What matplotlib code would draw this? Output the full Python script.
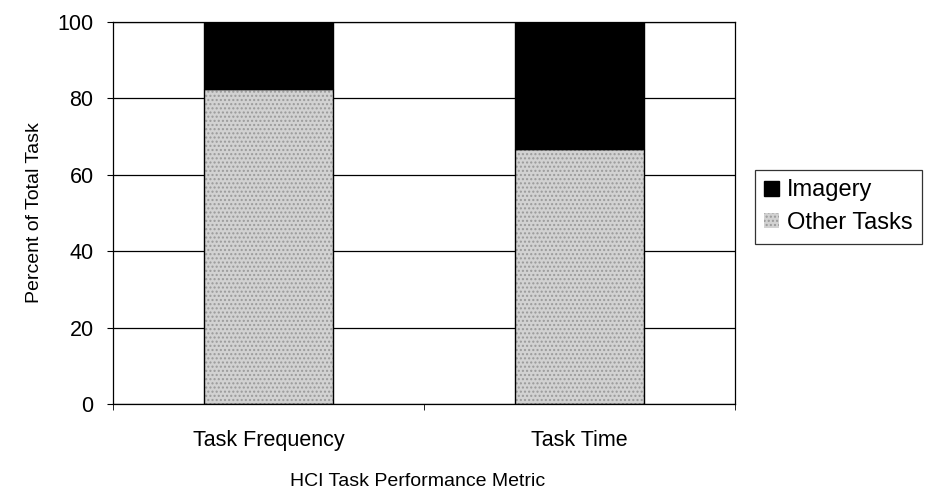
import matplotlib
matplotlib.use("Agg")
import matplotlib.pyplot as plt
import numpy as np

# dati
categories = ["Task Frequency", "Task Time"]
other_tasks = [82.5, 66.7]
imagery = [17.5, 33.3]
series_names = ["Imagery", "Other Tasks"]
y_ticks = [0, 20, 40, 60, 80, 100]

plt.rcParams['font.family'] = ['Liberation Sans', 'DejaVu Sans']

fig = plt.figure(figsize=(9.27, 4.98), dpi=100)
ax = fig.add_axes([0.1219, 0.1888, 0.671, 0.767])

x = np.arange(len(categories))
w = 0.415

# gridlines orizzontali
for t in y_ticks:
    ax.axhline(t, color="black", lw=0.9, zorder=1)

b_other = ax.bar(x, other_tasks, w, color="#d2d2d2", edgecolor="#9a9a9a",
                 hatch="....", lw=0, zorder=2)
ax.bar(x, other_tasks, w, fill=False, edgecolor="black", lw=1.0, zorder=3)
b_img = ax.bar(x, imagery, w, bottom=other_tasks, color="black",
               edgecolor="black", lw=1.0, zorder=3)

ax.set_xlim(-0.5, len(categories) - 0.5)
ax.set_ylim(0, 100)
ax.set_yticks(y_ticks)
ax.set_xticks(x)
ax.set_xticklabels(categories)
ax.set_xticks(np.arange(-0.5, len(categories)), minor=True)
ax.tick_params(axis="x", which="major", length=0, pad=19, labelsize=15.5)
ax.tick_params(axis="x", which="minor", length=4, direction="out")
ax.tick_params(axis="y", length=4, direction="out", labelsize=15.5, pad=10)

for s in ax.spines.values():
    s.set_linewidth(0.9)
    s.set_color("black")

ax.set_ylabel("Percent of Total Task", fontsize=14)
ax.yaxis.set_label_coords(-0.1125, 0.5)
ax.set_xlabel("HCI Task Performance Metric", fontsize=14)
ax.xaxis.set_label_coords(0.49, -0.18)

leg = fig.legend([b_img, b_other], series_names, loc="upper left",
                 bbox_to_anchor=(0.8145, 0.6586), fontsize=17, frameon=True,
                 fancybox=False, edgecolor="black", handlelength=0.6,
                 handleheight=0.6, handletextpad=0.35, borderpad=0.4,
                 labelspacing=0.45, borderaxespad=0)
leg.get_frame().set_linewidth(0.9)

fig.savefig("out.png", dpi=100)
